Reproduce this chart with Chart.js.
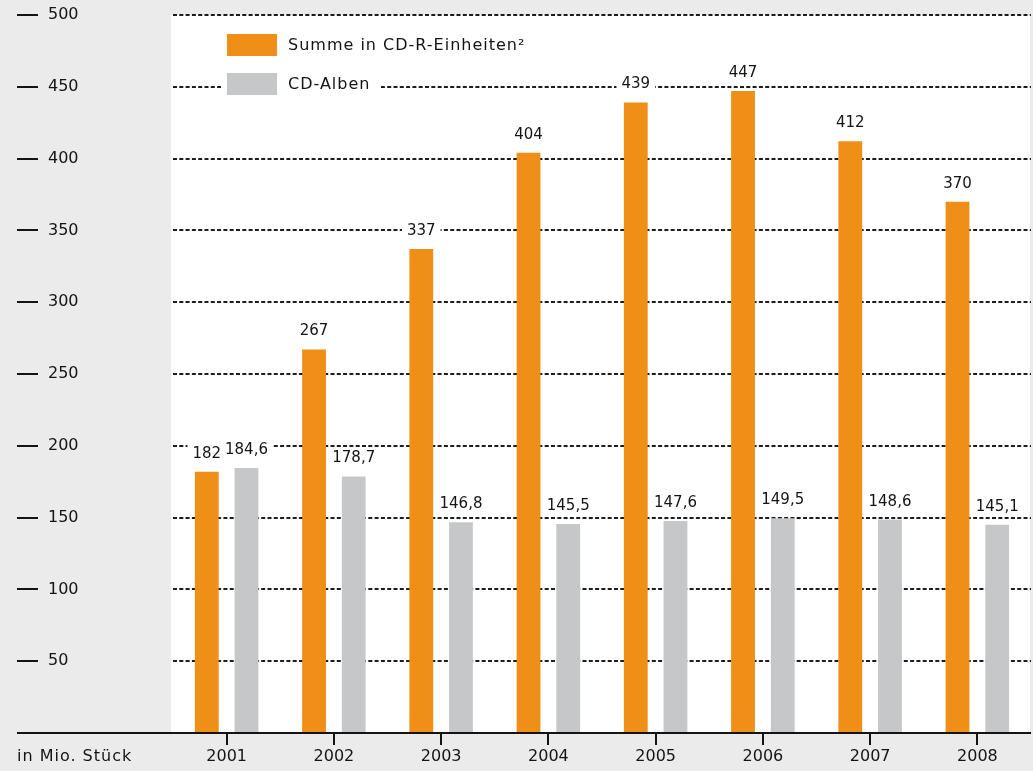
<!DOCTYPE html>
<html>
<head>
<meta charset="utf-8">
<title>CD-R-Einheiten und CD-Alben</title>
<script src="https://cdn.jsdelivr.net/npm/chart.js@4/dist/chart.umd.min.js"></script>
<style>
  html, body { margin: 0; padding: 0; background: #ebebeb; }
  #wrap { width: 1033px; height: 771px; }
</style>
</head>
<body>
<div id="wrap"><canvas id="myChart" width="1033" height="771"></canvas></div>
<script>
'use strict';

// Data
var years = ['2001', '2002', '2003', '2004', '2005', '2006', '2007', '2008'];
var summeCdr = [182, 267, 337, 404, 439, 447, 412, 370];
var cdAlben = [184.6, 178.7, 146.8, 145.5, 147.6, 149.5, 148.6, 145.1];
var seriesLabels = ['Summe in CD-R-Einheiten\u00B2', 'CD-Alben'];
var unitLabel = 'in Mio. St\u00FCck';
var yTicks = [0, 50, 100, 150, 200, 250, 300, 350, 400, 450, 500];

var ORANGE = '#ef8f17';
var GREY = '#c6c7c9';
var INK = '#141414';
var FONT = '"DejaVu Sans", "Liberation Sans", sans-serif';

// German number format (comma as decimal sign)
function fmt(v) {
   return String(v).replace('.', ',');
}

// Grey page, white plot panel
var backgroundPlugin = {
   id: 'panel',
   beforeDraw: function (chart) {
      var ctx = chart.ctx, a = chart.chartArea;
      ctx.save();
      ctx.fillStyle = '#ebebeb';
      ctx.fillRect(0, 0, chart.width, chart.height);
      ctx.fillStyle = '#ffffff';
      ctx.fillRect(a.left - 2, a.top, a.right - a.left + 1, a.bottom - a.top);
      ctx.restore();
   }
};

// Value labels with a white knock-out behind them, plus the hand-made bits
var valueLabelPlugin = {
   id: 'valueLabels',
   afterDatasetsDraw: function (chart) {
      var ctx = chart.ctx;
      ctx.save();
      ctx.font = '15px ' + FONT;
      ctx.textAlign = 'center';
      ctx.textBaseline = 'middle';
      chart.data.datasets.forEach(function (ds, i) {
         var meta = chart.getDatasetMeta(i);
         meta.data.forEach(function (bar, j) {
            var txt = fmt(ds.data[j]);
            var w = ctx.measureText(txt).width;
            var y = bar.y - 18;
            ctx.fillStyle = '#ffffff';
            ctx.fillRect(bar.x - w / 2 - 5, y - 9, w + 10, 18);
            ctx.fillStyle = INK;
            ctx.fillText(txt, bar.x, y);
         });
      });
      ctx.restore();
   },
   afterDraw: function (chart) {
      var ctx = chart.ctx, a = chart.chartArea;
      var yScale = chart.scales.y;
      ctx.save();

      // base line, running out to the left edge
      ctx.strokeStyle = INK;
      ctx.lineWidth = 2;
      ctx.beginPath();
      ctx.moveTo(17, a.bottom);
      ctx.lineTo(a.right, a.bottom);
      ctx.stroke();

      // short dashes in front of the y labels
      yScale.ticks.forEach(function (t) {
         if (t.value === 0) return;
         var y = Math.round(yScale.getPixelForValue(t.value));
         ctx.beginPath();
         ctx.moveTo(17, y);
         ctx.lineTo(38, y);
         ctx.stroke();
      });

      // unit label under the y axis
      ctx.fillStyle = INK;
      ctx.font = '16px ' + FONT;
      ctx.textAlign = 'left';
      ctx.textBaseline = 'middle';
      ctx.letterSpacing = '1px';
      ctx.fillText(unitLabel, 17, 757);

      // legend box inside the plot
      ctx.fillStyle = '#ffffff';
      ctx.fillRect(221, 28, 160, 72);
      chart.data.datasets.forEach(function (ds, i) {
         var top = 34 + i * 39;
         ctx.fillStyle = ds.backgroundColor;
         ctx.fillRect(227, top, 50, 22);
         ctx.fillStyle = INK;
         ctx.fillText(ds.label, 288, top + 12);
      });
      ctx.restore();
   }
};

var ctx = document.getElementById('myChart');
var myChart = new Chart(ctx, {
   type: 'bar',
   data: {
      labels: years,
      datasets: [{
         label: seriesLabels[0],
         data: summeCdr,
         backgroundColor: ORANGE,
         categoryPercentage: 0.74,
         barPercentage: 0.6
      }, {
         label: seriesLabels[1],
         data: cdAlben,
         backgroundColor: GREY,
         categoryPercentage: 0.74,
         barPercentage: 0.6
      }]
   },
   options: {
      responsive: false,
      animation: false,
      devicePixelRatio: 1,
      layout: { padding: { left: 48, top: 15, right: 2, bottom: 0 } },
      plugins: {
         legend: { display: false },
         tooltip: { enabled: false }
      },
      scales: {
         x: {
            afterFit: function (scale) { scale.height = 38; },
            grid: {
               offset: false,
               drawOnChartArea: false,
               drawTicks: true,
               tickLength: 12,
               color: INK,
               lineWidth: 2
            },
            border: { display: false },
            ticks: {
               padding: 2,
               color: INK,
               font: { family: FONT, size: 16 }
            }
         },
         y: {
            min: 0,
            max: 500,
            afterFit: function (scale) { scale.width = 125; },
            afterBuildTicks: function (scale) {
               scale.ticks = yTicks.map(function (v) { return { value: v }; });
            },
            grid: {
               drawTicks: false,
               lineWidth: 2,
               color: function (c) {
                  return c.tick && c.tick.value === 0 ? 'rgba(0,0,0,0)' : '#1c1c1c';
               }
            },
            border: { display: false, dash: [4, 2.3] },
            ticks: {
               crossAlign: 'far',
               color: INK,
               font: { family: FONT, size: 16 },
               callback: function (v) { return v === 0 ? '' : v; }
            }
         }
      }
   },
   plugins: [backgroundPlugin, valueLabelPlugin]
});
</script>
</body>
</html>
